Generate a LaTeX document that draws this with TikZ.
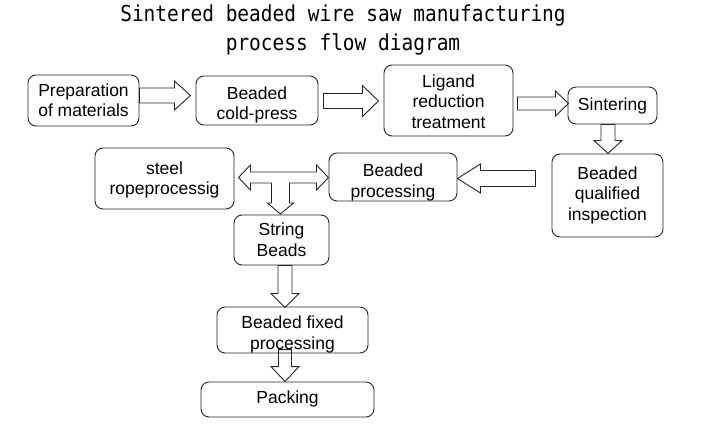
\documentclass[tikz,border=0pt]{standalone}
\usepackage{fontspec}
\setmainfont{Liberation Sans}
\newfontfamily\titlefont{DejaVu Sans Mono}
\usetikzlibrary{calc}
\newcommand\lowr[2]{\raisebox{-#1}[\height][\depth]{\begin{tabular}{@{}c@{}}#2\end{tabular}}}
\tikzset{
  stepbox/.style={draw=black!85, line width=0.9pt, rounded corners=8pt, align=center,
    inner sep=0pt, font=\fontsize{17.5}{20.5}\selectfont},
  blk/.style={draw=black!85, line width=0.9pt, line join=miter},
}
\begin{document}
\begin{tikzpicture}[x=1pt,y=-1pt]
\path[use as bounding box, fill=white] (0,0) rectangle (701,437);
\node[font=\fontsize{22}{29}\selectfont\titlefont, align=center, xscale=0.885, transform shape] (title) at (343,30)
  {Sintered beaded wire saw manufacturing\\process flow diagram};
\node[stepbox, minimum width=111, minimum height=51] (prep) at (83.5,100.5) {\lowr{2pt}{Preparation\\of materials}};
\node[stepbox, minimum width=122, minimum height=49] (cold) at (257,100.5) {\lowr{5pt}{Beaded\\cold-press}};
\node[stepbox, minimum width=129, minimum height=71] (lig) at (448.5,100.5) {\lowr{3pt}{Ligand\\reduction\\treatment}};
\node[stepbox, minimum width=89, minimum height=37] (sint) at (612.5,105.5) {\lowr{1pt}{Sintering}};
\node[stepbox, minimum width=111, minimum height=83] (insp) at (607.5,195.5) {\lowr{0pt}{Beaded\\qualified\\inspection}};
\node[stepbox, minimum width=128, minimum height=48] (bproc) at (393,177) {\lowr{6pt}{Beaded\\processing}};
\node[stepbox, minimum width=139, minimum height=61] (steel) at (164.5,178.5) {\lowr{2pt}{steel\\ropeprocessig}};
\node[stepbox, minimum width=95, minimum height=50] (string) at (281.5,240) {\lowr{2pt}{String\\Beads}};
\node[stepbox, minimum width=151, minimum height=46] (fixed) at (292.5,330) {\lowr{5pt}{Beaded fixed\\processing}};
\node[stepbox, minimum width=173, minimum height=35] (pack) at (287.5,399.5) {\lowr{0pt}{Packing}};
% block arrows
\draw[blk] (prep.east) ++(0,-12.5) -- ++(35,0) -- ++(0,-7) -- ++(16,14.5) -- ++(-16,14.5) -- ++(0,-7) -- ++(-35,0) -- cycle;
\draw[blk] (cold.east) ++(5,-7) -- ++(39,0) -- ++(0,-8) -- ++(16,15.5) -- ++(-16,15.5) -- ++(0,-8) -- ++(-39,0) -- cycle;
\draw[blk] (lig.east) ++(4,-3.5) -- ++(38,0) -- ++(0,-6) -- ++(13,12.5) -- ++(-13,12.5) -- ++(0,-6) -- ++(-38,0) -- cycle;
\draw[blk] (sint.south) ++(-11.5,0) -- ++(0,16) -- ++(-7,0) -- ++(14,13) -- ++(14,-13) -- ++(-7,0) -- ++(0,-16) -- cycle;
\draw[blk] (bproc.east) ++(0,1.5) -- ++(23,-14.5) -- ++(0,6.5) -- ++(55,0) -- ++(0,16) -- ++(-55,0) -- ++(0,6.5) -- cycle;
\draw[blk] (steel.east) ++(4,-1) -- ++(12,-12.5) -- ++(0,7) -- ++(66,0) -- ++(0,-7) -- ++(12,12.5) -- ++(-12,12.5) -- ++(0,-7)
  -- ++(-27,0) -- ++(0,20) -- ++(4,0) -- ++(-13,11) -- ++(-13,-11) -- ++(4,0) -- ++(0,-20) -- ++(-21,0) -- ++(0,7) -- cycle;
\draw[blk] (string.south) ++(-3.5,0) -- ++(0,28) -- ++(-7,0) -- ++(14,14) -- ++(14,-14) -- ++(-7,0) -- ++(0,-28) -- cycle;
\draw[blk] (pack.north) ++(-2.5,0) -- ++(-14,-15) -- ++(7.5,0) -- ++(0,-17) -- ++(13,0) -- ++(0,17) -- ++(7.5,0) -- cycle;
\end{tikzpicture}
\end{document}
